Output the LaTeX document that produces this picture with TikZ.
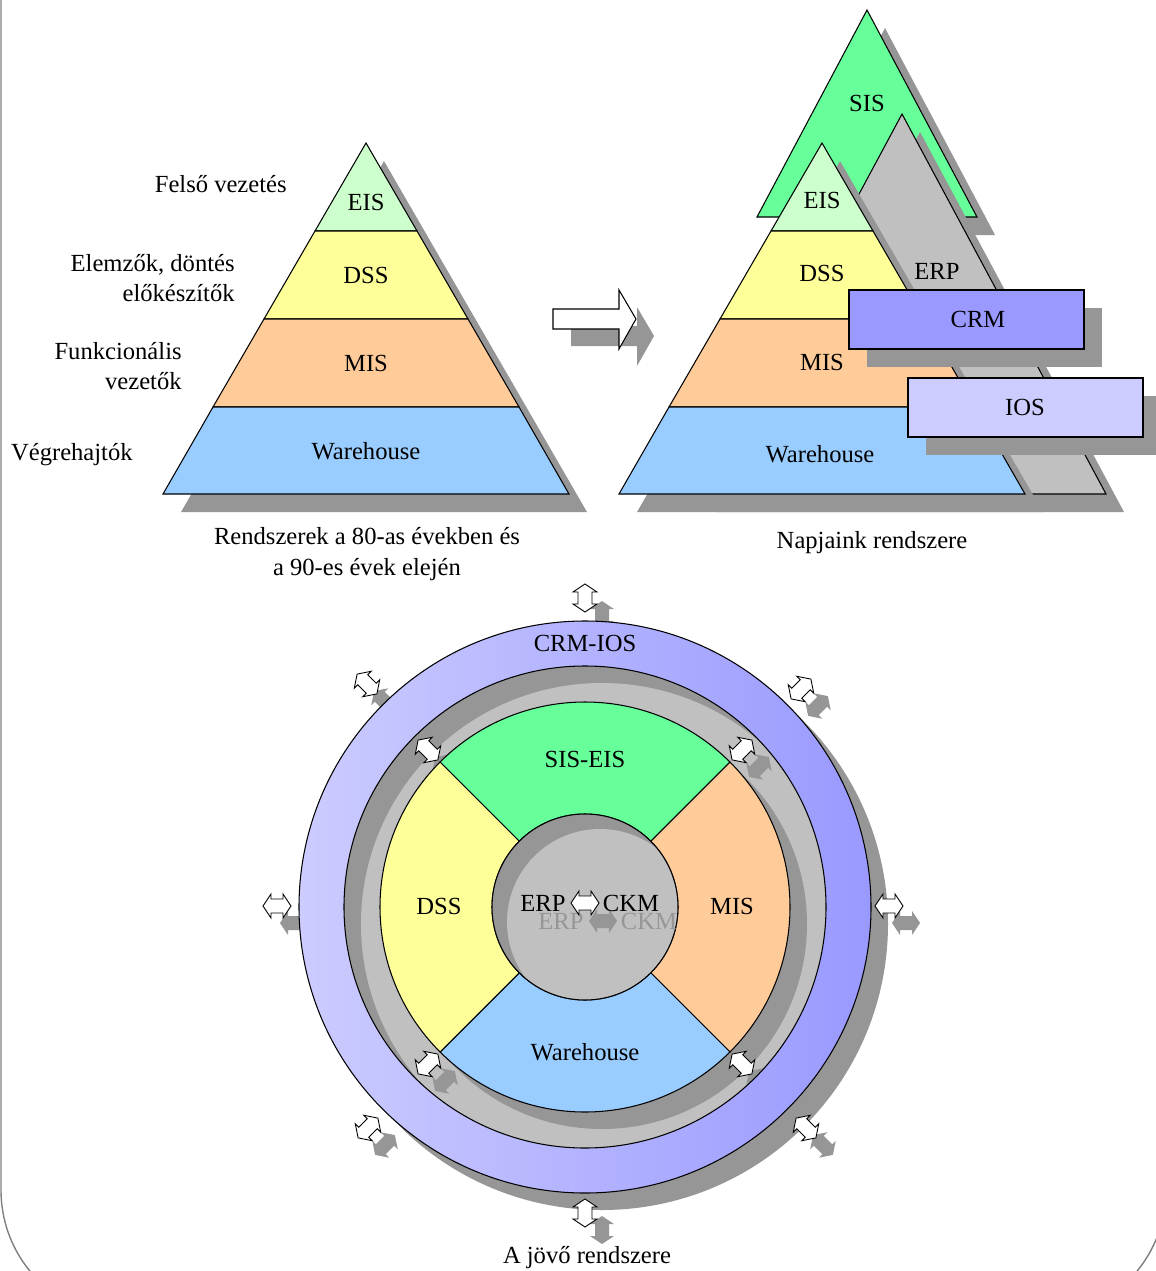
\documentclass[tikz,border=0pt]{standalone}
\usepackage{fontspec}
\setmainfont{Liberation Serif}
\usepackage{tikz}
\definecolor{shadowgray}{HTML}{969696}
\definecolor{erpgray}{HTML}{C0C0C0}
\definecolor{siscol}{HTML}{66FF99}
\definecolor{eiscol}{HTML}{CCFFCC}
\definecolor{dsscol}{HTML}{FFFF99}
\definecolor{miscol}{HTML}{FFCC99}
\definecolor{whcol}{HTML}{99CCFF}
\definecolor{crmcol}{HTML}{9999FF}
\definecolor{ioscol}{HTML}{CCCCFF}

\tikzset{
    dblarrow/.pic={
        \path[pic actions] (-14,0) -- (-6,-12) -- (-6,-7) -- (6,-7) -- (6,-12) -- (14,0)
            -- (6,12) -- (6,7) -- (-6,7) -- (-6,12) -- cycle;
    }
}

% one pyramid: shadow and four layers
\newcommand{\pyramidlayers}{
    \fill[shadowgray] (384,161) -- (587,512) -- (181,512) -- cycle;
    \filldraw[layer, fill=eiscol] (366,143) -- (417,231) -- (315,231) -- cycle;
    \filldraw[layer, fill=dsscol] (315,231) -- (417,231) -- (468,319) -- (264,319) -- cycle;
    \filldraw[layer, fill=miscol] (264,319) -- (468,319) -- (519,407) -- (213,407) -- cycle;
    \filldraw[layer, fill=whcol] (213,407) -- (519,407) -- (569,494) -- (163,494) -- cycle;
}

\begin{document}
\begin{tikzpicture}[
            x=0.02cm, y=-0.02cm,
            every node/.style={font=\fontsize{14pt}{17.5pt}\selectfont, inner sep=0pt},
            layer/.style={line width=0.6pt},
            whitearrow/.style={draw, fill=white, line width=0.5pt},
            grayarrow/.style={fill=shadowgray}
        ]
            \useasboundingbox (0,0) rectangle (1156,1271);
            \begin{scope}
                \clip (0,0) rectangle (1156,1271);
                \draw[gray, line width=0.8pt] (1,-300) -- (1,1190) arc (180:90:128) -- (1038,1318) arc (90:0:128) -- (1166,-300);
            \end{scope}

            % left pyramid
            \pyramidlayers

            % arrow between the pyramids
            \fill[shadowgray] (571,326) -- (637,326) -- (637,307) -- (654,336) -- (637,366) -- (637,346) -- (571,346) -- cycle;
            \filldraw[layer, fill=white] (553,309) -- (619,309) -- (619,290) -- (636,319) -- (619,349) -- (619,329) -- (553,329) -- cycle;

            % right side
            \fill[shadowgray] (885,28) -- (995,235) -- (775,235) -- cycle;
            \filldraw[layer, fill=siscol] (867,10) -- (977,217) -- (757,217) -- cycle;
            \fill[shadowgray] (920,132) -- (1124,512) -- (716,512) -- cycle;
            \filldraw[layer, fill=erpgray] (902,114) -- (1106,494) -- (698,494) -- cycle;
            \begin{scope}[shift={(456,0)}]
                \pyramidlayers
            \end{scope}
            \fill[shadowgray] (867,308) rectangle (1102,367);
            \filldraw[layer, fill=crmcol] (849,290) rectangle (1084,349);
            \fill[shadowgray] (926,396) rectangle (1161,455);
            \filldraw[layer, fill=ioscol] (908,378) rectangle (1143,437);

            \node (eisL) at (366,202) {EIS};
            \node (dssL) at (366,275) {DSS};
            \node (misL) at (366,363) {MIS};
            \node (whL) at (366,451) {Warehouse};
            \node[anchor=east] (felso) at (287,184) {Felső vezetés};
            \node[anchor=east, align=right] (elemzok) at (235,278) {Elemzők, döntés\\előkészítők};
            \node[anchor=east, align=right] (funk) at (182,366) {Funkcionális\\vezetők};
            \node[anchor=east] (vegre) at (133,455) {Végrehajtók};
            \node[align=center] (capL) at (367,554) {Rendszerek a 80-as években és\\a 90-es évek elején};

            \node (sisR) at (867,103) {SIS};
            \node (eisR) at (822,200) {EIS};
            \node (dssR) at (822,273) {DSS};
            \node (misR) at (822,362) {MIS};
            \node (whR) at (820,454) {Warehouse};
            \node (erpR) at (937,271) {ERP};
            \node (crmR) at (978,319) {CRM};
            \node (iosR) at (1025,407) {IOS};
            \node (capR) at (872,543) {Napjaink rendszere};

            % circle of the future
            \coordinate (c) at (585,907);
            \pic[grayarrow, rotate=90] at (602,615) {dblarrow};
            \pic[grayarrow, rotate=45] at (818,706) {dblarrow};
            \pic[grayarrow] at (906,923) {dblarrow};
            \pic[grayarrow, rotate=-45] at (823,1145) {dblarrow};
            \pic[grayarrow, rotate=90] at (602,1230) {dblarrow};
            \pic[grayarrow, rotate=45] at (385,1145) {dblarrow};
            \pic[grayarrow] at (294,923) {dblarrow};
            \pic[grayarrow, rotate=-45] at (384,701) {dblarrow};

            \fill[shadowgray] (602,924) circle (286);
            \shade[left color=ioscol, right color=crmcol] (c) circle (286);
            \draw[layer] (c) circle (286);

            \fill[shadowgray] (c) circle (241);
            \begin{scope}
                \clip (c) circle (241);
                \fill[erpgray] (602,924) circle (241);
                \pic[grayarrow, rotate=45] at (759,767) {dblarrow};
                \pic[grayarrow, rotate=-45] at (445,767) {dblarrow};
                \pic[grayarrow, rotate=45] at (445,1081) {dblarrow};
                \pic[grayarrow, rotate=-45] at (759,1081) {dblarrow};
            \end{scope}
            \draw[layer] (c) circle (241);

            \fill[shadowgray] (602,924) circle (205);
            \begin{scope}[shift={(585,907)}]
                \filldraw[layer, fill=siscol] (225:205) arc (225:315:205) -- (315:93) arc (315:225:93) -- cycle;
                \filldraw[layer, fill=miscol] (-45:205) arc (-45:45:205) -- (45:93) arc (45:-45:93) -- cycle;
                \filldraw[layer, fill=whcol] (45:205) arc (45:135:205) -- (135:93) arc (135:45:93) -- cycle;
                \filldraw[layer, fill=dsscol] (135:205) arc (135:225:205) -- (225:93) arc (225:135:93) -- cycle;
            \end{scope}

            \fill[shadowgray] (c) circle (93);
            \begin{scope}
                \clip (c) circle (93);
                \fill[erpgray] (600,922) circle (93);
            \end{scope}
            \draw[layer] (c) circle (93);

            \pic[whitearrow, rotate=-45] at (428,750) {dblarrow};
            \pic[whitearrow, rotate=45] at (742,750) {dblarrow};
            \pic[whitearrow, rotate=45] at (428,1064) {dblarrow};
            \pic[whitearrow, rotate=-45] at (742,1064) {dblarrow};

            \pic[whitearrow, rotate=90] at (585,598) {dblarrow};
            \pic[whitearrow, rotate=45] at (801,689) {dblarrow};
            \pic[whitearrow] at (889,906) {dblarrow};
            \pic[whitearrow, rotate=-45] at (806,1128) {dblarrow};
            \pic[whitearrow, rotate=90] at (585,1213) {dblarrow};
            \pic[whitearrow, rotate=45] at (368,1128) {dblarrow};
            \pic[whitearrow] at (277,906) {dblarrow};
            \pic[whitearrow, rotate=-45] at (367,684) {dblarrow};

            \node[text=shadowgray] (erpsh) at (561,921) {ERP};
            \pic[grayarrow] at (603,921) {dblarrow};
            \node[text=shadowgray] (ckmsh) at (649,921) {CKM};
            \node (erpC) at (543,903) {ERP};
            \pic[whitearrow] at (585,903) {dblarrow};
            \node (ckmC) at (631,903) {CKM};

            \node (crmios) at (585,643) {CRM-IOS};
            \node (siseis) at (585,759) {SIS-EIS};
            \node (dssC) at (439,906) {DSS};
            \node (misC) at (732,906) {MIS};
            \node (whC) at (585,1052) {Warehouse};
            \node (capC) at (587,1258) {A jövő rendszere};
        \end{tikzpicture}
\end{document}
